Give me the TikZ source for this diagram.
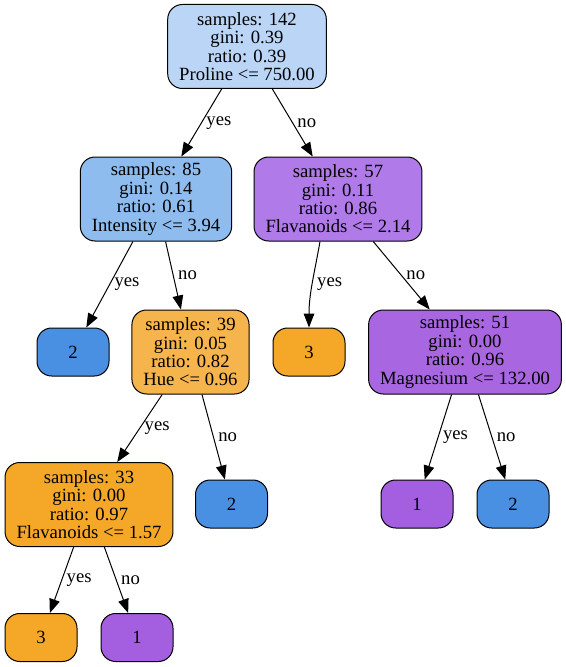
\documentclass[tikz,border=0pt]{standalone}
\usepackage{fontspec}
\setmainfont{Liberation Serif}
\usetikzlibrary{arrows.meta}
\definecolor{rootblue}{RGB}{186,213,245}
\definecolor{midblue}{RGB}{142,188,238}
\definecolor{leafblue}{RGB}{74,144,226}
\definecolor{lightpurple}{RGB}{176,122,232}
\definecolor{midpurple}{RGB}{168,102,224}
\definecolor{leafpurple}{RGB}{164,94,224}
\definecolor{lightorange}{RGB}{246,180,76}
\definecolor{leaforange}{RGB}{245,168,40}
\begin{document}
\begin{tikzpicture}[x=.75pt, y=-.75pt, >={Triangle[length=10.5pt,width=8pt]},
 split/.style={draw, line width=.75pt, rounded corners=11pt, align=center, inner xsep=8.6pt, minimum height=63pt, font=\fontsize{14}{13.8}\selectfont},
 leaf/.style={draw, line width=.75pt, rounded corners=11pt, minimum width=54pt, minimum height=36pt, font=\fontsize{14}{14}\selectfont},
 branch/.style={->, line width=.75pt},
 lbl/.style={right, font=\fontsize{14}{14}\selectfont}]
\useasboundingbox (0,0) rectangle (566,667);
\node[split, fill=rootblue](root) at (247,46.5){samples: 142\\gini: 0.39\\ratio: 0.39\\Proline <= 750.00};
\node[split, fill=midblue](n85) at (156,199){samples: 85\\gini: 0.14\\ratio: 0.61\\Intensity <= 3.94};
\node[split, fill=lightpurple](n57) at (338,199){samples: 57\\gini: 0.11\\ratio: 0.86\\Flavanoids <= 2.14};
\node[leaf, fill=leafblue](l2a) at (73,352){2};
\node[split, fill=lightorange](n39) at (190.5,352){samples: 39\\gini: 0.05\\ratio: 0.82\\Hue <= 0.96};
\node[leaf, fill=leaforange](l3a) at (309,352){3};
\node[split, fill=midpurple](n51) at (465,352){samples: 51\\gini: 0.00\\ratio: 0.96\\Magnesium <= 132.00};
\node[split, fill=leaforange](n33) at (89,504.5){samples: 33\\gini: 0.00\\ratio: 0.97\\Flavanoids <= 1.57};
\node[leaf, fill=leafblue](l2b) at (231.5,504){2};
\node[leaf, fill=leafpurple](l1a) at (417,504){1};
\node[leaf, fill=leafblue](l2c) at (513,504){2};
\node[leaf, fill=leaforange](l3b) at (41,637.5){3};
\node[leaf, fill=leafpurple](l1b) at (137,637.5){1};
\draw[branch](root)--node[lbl]{yes}(n85);
\draw[branch](root)--node[lbl]{no}(n57);
\draw[branch](n85)--node[lbl]{yes}(l2a);
\draw[branch](n85)--node[lbl]{no}(n39);
\draw[branch]([xshift=-13.5pt]n57.south) to[out=-100,in=90] node[lbl]{yes}(l3a);
\draw[branch](n57)--node[lbl]{no}(n51);
\draw[branch](n39)--node[lbl]{yes}(n33);
\draw[branch](n39)--node[lbl]{no}(l2b);
\draw[branch](n51)--node[lbl]{yes}(l1a);
\draw[branch](n51)--node[lbl]{no}(l2c);
\draw[branch](n33)--node[lbl]{yes}(l3b);
\draw[branch](n33)--node[lbl]{no}(l1b);
\end{tikzpicture}
\end{document}
